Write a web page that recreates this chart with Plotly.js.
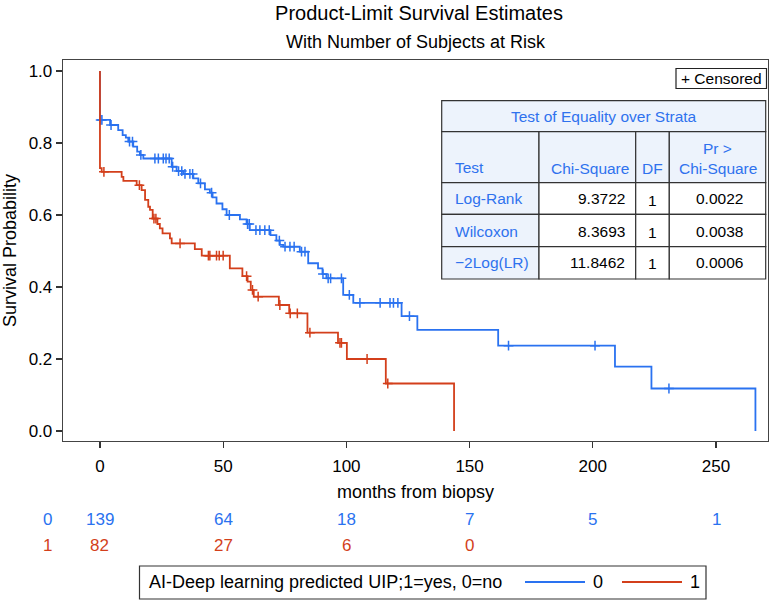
<!DOCTYPE html>
<html>
<head>
<meta charset="utf-8">
<script src="https://cdn.plot.ly/plotly-3.0.1.min.js"></script>
<style>
  html, body { margin: 0; padding: 0; background: #fff; }
  #chart { width: 774px; height: 600px; }
</style>
</head>
<body>
<div id="chart"></div>
<script>
// Kaplan-Meier step data (months, survival)
const group0Times = [0, 0, 4.1, 7.4, 9.2, 10.5, 11.5, 13.5, 15.1, 16.2, 17.6, 29.1, 31.1, 33.8, 37.9, 39.9, 42.6, 44.6, 45.7, 47.3, 49.7, 51.4, 56.8, 59.5, 60.8, 69.2, 71.6, 73.0, 74.4, 81.1, 84.5, 88.5, 90.3, 91.9, 98.7, 102.8, 122.4, 128.8, 161.6, 209.0, 223.8, 266.0];
const group0Surv = [1.0, 0.864, 0.850, 0.836, 0.822, 0.815, 0.804, 0.790, 0.776, 0.767, 0.757, 0.734, 0.722, 0.714, 0.702, 0.688, 0.671, 0.662, 0.649, 0.632, 0.616, 0.600, 0.588, 0.575, 0.558, 0.544, 0.529, 0.517, 0.512, 0.498, 0.466, 0.452, 0.436, 0.424, 0.378, 0.356, 0.319, 0.281, 0.237, 0.179, 0.118, 0.0];
const group0Censor = [0.3, 0.8, 4.5, 12.0, 13.2, 16.6, 22.3, 23.7, 25.7, 26.8, 28.1, 29.5, 31.9, 33.2, 34.5, 36.5, 37.6, 40.8, 45.3, 52.5, 59.9, 60.6, 63.3, 64.9, 66.9, 68.7, 72.8, 75.1, 77.1, 78.8, 81.8, 83.2, 90.5, 92.6, 93.6, 98.0, 101.2, 105.5, 113.7, 117.7, 119.1, 120.9, 125.6, 165.8, 200.9, 230.9];

const group1Times = [0, 0, 0.7, 8.8, 9.5, 14.9, 16.9, 18.3, 19.6, 20.3, 21.4, 23.3, 24.3, 25.4, 28.4, 29.1, 38.5, 41.3, 52.7, 57.8, 59.9, 61.2, 62.4, 72.6, 76.8, 84.2, 96.6, 100.2, 116.0, 143.7];
const group1Surv = [1.0, 0.730, 0.720, 0.706, 0.695, 0.683, 0.669, 0.642, 0.623, 0.614, 0.590, 0.575, 0.563, 0.549, 0.535, 0.521, 0.505, 0.487, 0.452, 0.430, 0.415, 0.392, 0.373, 0.350, 0.327, 0.273, 0.245, 0.200, 0.132, 0.0];
const group1Censor = [1.6, 16.0, 21.9, 22.7, 32.5, 44.0, 44.6, 47.3, 48.4, 50.0, 59.5, 61.9, 64.2, 73.0, 77.2, 80.1, 85.2, 97.4, 98.0, 108.4, 116.8];

// number at risk
const riskTimes = [0, 50, 100, 150, 200, 250];
const atRisk0 = [139, 64, 18, 7, 5, 1];
const atRisk1 = [82, 27, 6, 0];

// test of equality table
const testNames = ["Log-Rank", "Wilcoxon", "\u22122Log(LR)"];
const chiSquare = ["9.3722", "8.3693", "11.8462"];
const testDF = ["1", "1", "1"];
const pValues = ["0.0022", "0.0038", "0.0006"];

const groupLabels = ["0", "1"];
const legendTitle = "AI-Deep learning predicted UIP;1=yes, 0=no";

const BLUE = "#2a72f0";
const RED = "#d33f1b";
const TBL_BLUE = "#2f72ee";
const FONT = '"Liberation Sans", Arial, Helvetica, sans-serif';

// survival value at time t (step function lookup)
function survAt(times, surv, t) {
  let v = surv[0];
  for (let i = 0; i < times.length; i++) {
    if (times[i] <= t) v = surv[i];
  }
  return v;
}

// plot area in pixels: left 63, right 768, top 60, bottom 441
const L = 63, R = 768, T = 60, B = 441;
const px = (x) => (x - L) / (R - L);
const py = (y) => (B - y) / (B - T);

const traces = [];
[[group0Times, group0Surv, group0Censor, BLUE, groupLabels[0]],
 [group1Times, group1Surv, group1Censor, RED, groupLabels[1]]].forEach(([tm, sv, cens, col, name]) => {
  traces.push({
    x: tm, y: sv, name: name, type: "scatter", mode: "lines",
    line: { shape: "hv", color: col, width: 1.8 },
    showlegend: false, hoverinfo: "skip"
  });
  traces.push({
    x: cens, y: cens.map((t) => survAt(tm, sv, t)),
    type: "scatter", mode: "markers", showlegend: false, hoverinfo: "skip",
    marker: { symbol: "cross-thin", size: 7, color: col, line: { color: col, width: 1.5 } }
  });
});

const shapes = [];
const annotations = [];

// subtitle
annotations.push({
  text: "With Number of Subjects at Risk", xref: "paper", yref: "paper",
  x: px(416), y: py(42), showarrow: false, xanchor: "center", yanchor: "middle",
  font: { size: 18, color: "#000", family: FONT }
});

// at-risk rows
const rowY = [519, 545];
[[atRisk0, BLUE], [atRisk1, RED]].forEach(([vals, col], r) => {
  annotations.push({
    text: groupLabels[r], xref: "paper", yref: "paper", x: px(47), y: py(rowY[r]),
    showarrow: false, xanchor: "center", yanchor: "middle",
    font: { size: 17, color: col, family: FONT }
  });
  vals.forEach((v, i) => {
    annotations.push({
      text: String(v), xref: "x", yref: "paper", x: riskTimes[i], y: py(rowY[r]),
      showarrow: false, xanchor: "center", yanchor: "middle",
      font: { size: 17, color: col, family: FONT }
    });
  });
});

// legend box at the bottom
shapes.push({ type: "rect", xref: "paper", yref: "paper", x0: px(139.5), x1: px(706), y0: py(566), y1: py(599),
  line: { color: "#333", width: 1.2 }, fillcolor: "rgba(0,0,0,0)" });
annotations.push({
  text: legendTitle, xref: "paper", yref: "paper", x: px(147), y: py(582),
  showarrow: false, xanchor: "left", yanchor: "middle",
  font: { size: 18, color: "#000", family: FONT }
});
[[525, BLUE], [622, RED]].forEach(([x0, col], i) => {
  shapes.push({ type: "line", xref: "paper", yref: "paper", x0: px(x0), x1: px(x0 + 60), y0: py(582), y1: py(582),
    line: { color: col, width: 2 } });
  annotations.push({
    text: groupLabels[i], xref: "paper", yref: "paper", x: px(x0 + 66), y: py(582),
    showarrow: false, xanchor: "left", yanchor: "middle",
    font: { size: 18, color: "#000", family: FONT }
  });
});

// "+ Censored" box
shapes.push({ type: "rect", xref: "paper", yref: "paper", x0: px(676), x1: px(766.5), y0: py(68.5), y1: py(88.5),
  line: { color: "#222", width: 1.2 }, fillcolor: "#fff" });
annotations.push({
  text: "+ Censored", xref: "paper", yref: "paper", x: px(721), y: py(78.5),
  showarrow: false, xanchor: "center", yanchor: "middle",
  font: { size: 15.5, color: "#000", family: FONT }
});

// test table
const cols = [441.7, 539, 635.7, 669.3, 765.7];
const rows = [100.7, 131.7, 182.7, 214.3, 246.7, 279];
const HEAD_BG = "#edf3fc";
function cell(x0, x1, y0, y1, fill) {
  shapes.push({ type: "rect", xref: "paper", yref: "paper", x0: px(x0), x1: px(x1), y0: py(y0), y1: py(y1),
    line: { color: "#333", width: 1.2 }, fillcolor: fill });
}
function txt(s, x, y, anchor, col) {
  annotations.push({ text: s, xref: "paper", yref: "paper", x: px(x), y: py(y), showarrow: false,
    xanchor: anchor, yanchor: "middle", font: { size: 15.5, color: col, family: FONT } });
}
cell(cols[0], cols[4], rows[0], rows[1], HEAD_BG);
for (let c = 0; c < 4; c++) cell(cols[c], cols[c + 1], rows[1], rows[2], HEAD_BG);
for (let r = 2; r < 5; r++) {
  for (let c = 0; c < 4; c++) cell(cols[c], cols[c + 1], rows[r], rows[r + 1], c === 0 ? HEAD_BG : "#fff");
}
txt("Test of Equality over Strata", (cols[0] + cols[4]) / 2, 116, "center", TBL_BLUE);
txt("Test", cols[0] + 11, 167.5, "left", TBL_BLUE);
txt("Chi-Square", cols[2] - 5, 168.5, "right", TBL_BLUE);
txt("DF", (cols[2] + cols[3]) / 2, 168.5, "center", TBL_BLUE);
txt("Pr >", (cols[3] + cols[4]) / 2, 148.5, "center", TBL_BLUE);
txt("Chi-Square", (cols[3] + cols[4]) / 2, 168.5, "center", TBL_BLUE);
const rowCenters = [198.5, 231, 262];
testNames.forEach((name, i) => {
  txt(name, cols[0] + 11, rowCenters[i], "left", TBL_BLUE);
  txt(chiSquare[i], cols[2] - 9, rowCenters[i], "right", "#000");
  txt(testDF[i], (cols[2] + cols[3]) / 2, rowCenters[i] + 1.5, "center", "#000");
  txt(pValues[i], (cols[3] + cols[4]) / 2 + 1.5, rowCenters[i], "center", "#000");
});

const layout = {
  width: 774,
  height: 600,
  margin: { l: L, r: 774 - R, t: T, b: 600 - B },
  paper_bgcolor: "#fff",
  plot_bgcolor: "#fff",
  font: { family: FONT, color: "#000" },
  showlegend: false,
  title: {
    text: "Product-Limit Survival Estimates",
    font: { size: 20, color: "#000", family: FONT },
    xref: "container", yref: "container",
    x: 419 / 774, xanchor: "center",
    y: 1 - 13 / 600, yanchor: "middle"
  },
  xaxis: {
    range: [-15.0, 271.1],
    tickvals: riskTimes,
    ticks: "outside", ticklen: 6, tickcolor: "#333", tickwidth: 1.2,
    ticklabelstandoff: 3,
    tickfont: { size: 17, family: FONT, color: "#000" },
    showgrid: false, zeroline: false,
    showline: true, mirror: true, linecolor: "#444", linewidth: 1.3,
    title: { text: "months from biopsy", font: { size: 18, family: FONT, color: "#000" }, standoff: 10 }
  },
  yaxis: {
    range: [-0.0278, 1.0306],
    tickvals: [0, 0.2, 0.4, 0.6, 0.8, 1.0],
    ticktext: ["0.0", "0.2", "0.4", "0.6", "0.8", "1.0"],
    ticks: "outside", ticklen: 6, tickcolor: "#333", tickwidth: 1.2,
    tickfont: { size: 17, family: FONT, color: "#000" },
    showgrid: false, zeroline: false,
    showline: true, mirror: true, linecolor: "#444", linewidth: 1.3,
    title: { text: "Survival Probability", font: { size: 18, family: FONT, color: "#000" }, standoff: 12 }
  },
  shapes: shapes,
  annotations: annotations
};

Plotly.newPlot("chart", traces, layout, { displayModeBar: false, staticPlot: true });
</script>
</body>
</html>
